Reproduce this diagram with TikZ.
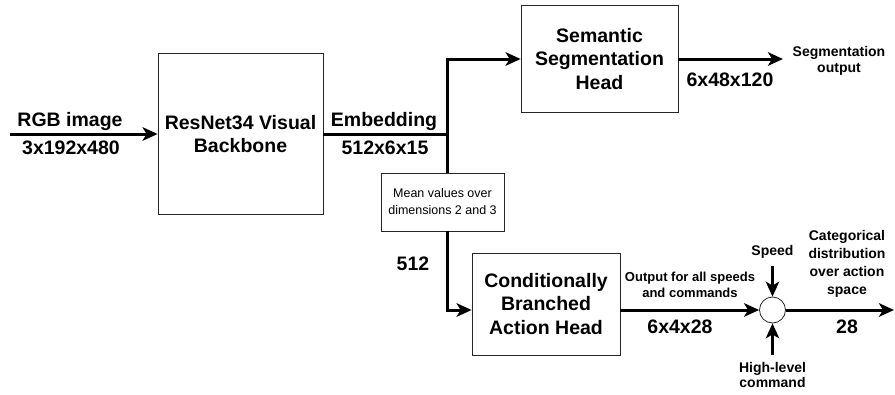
\documentclass[tikz,border=0pt]{standalone}
\usepackage{fontspec}
\setmainfont{Liberation Sans}
\usetikzlibrary{arrows.meta}

\begin{document}
\begin{tikzpicture}[x=1pt,y=-1pt,
  block/.style={draw=black!85, line width=0.8pt, fill=white, align=center,
    inner sep=0pt, font=\fontsize{19.5}{23.5}\selectfont\bfseries},
  big/.style={inner sep=0pt, align=center, font=\fontsize{19.5}{23.5}\selectfont\bfseries},
  small/.style={inner sep=0pt, align=center, font=\fontsize{14}{15.5}\selectfont\bfseries},
  conn/.style={line width=3pt},
  flow/.style={line width=3pt, -{Stealth[length=15pt,width=13.5pt,inset=4pt]}},
  sumnode/.style={circle, draw=black!85, line width=0.8pt, fill=white, minimum size=26pt, inner sep=0pt}
]
\useasboundingbox (0,0) rectangle (895,394);

% processing blocks
\node[block, minimum width=165pt, minimum height=161pt] (res) at (240.5,134) {ResNet34 Visual\\Backbone};
\node[block, minimum width=157pt, minimum height=107pt] (sem) at (599.5,59) {Semantic\\Segmentation\\Head};
\node[block, minimum width=148pt, minimum height=102pt] (act) at (546,304) {Conditionally\\Branched\\Action Head};
\node[sumnode] (sum) at (772.5,310) {};

% free ends of the connectors
\coordinate (rgbin) at (10,134);
\coordinate (jn) at (447,134);
\coordinate (segend) at (783,59);
\coordinate (outend) at (894,310);
\coordinate (spdin) at (772.5,266);
\coordinate (cmdin) at (772.5,355);

% backbone and embedding
\draw[flow] (rgbin) -- (res.west);
\draw[conn] (res.east) -- (jn);
\draw[flow] (jn) |- (sem.west);
\draw[flow] (sem.east) -- (segend);

% pooling step on the action branch
\node[draw=black!85, line width=0.8pt, fill=white, minimum width=123pt, minimum height=58pt,
  inner sep=0pt, align=center, font=\fontsize{12.5}{17}\selectfont] (mean) at (442.5,202)
  {Mean values over\\dimensions 2 and 3};
\draw[conn] (jn) -- (jn |- mean.north);
\draw[flow] (jn |- mean.south) |- (act.west |- sum);
\draw[flow] (act.east |- sum) -- (sum.west);
\draw[flow] (spdin) -- (sum.north);
\draw[flow] (cmdin) -- (sum.south);
\draw[flow] (sum.east) -- (outend);

% labels
\node[big] (rgbt) at (70,121) {RGB image};
\node[big] (rgbd) at (71,148) {3x192x480};
\node[big] (embt) at (384,121) {Embedding};
\node[big] (embd) at (385,148) {512x6x15};
\node[big] (segd) at (730,80) {6x48x120};
\node[small] (segt) at (839,61) {Segmentation\\output};
\node[big] (pool) at (413,264) {512};
\node[inner sep=0pt, align=center, font=\fontsize{13}{16}\selectfont\bfseries] (allt) at (690,285)
  {Output for all speeds\\and commands};
\node[big] (actd) at (680,327) {6x4x28};
\node[small] (spdt) at (772.5,252) {Speed};
\node[small] (cmdt) at (772.5,375) {High-level\\command};
\node[inner sep=0pt, align=center, font=\fontsize{14}{18}\selectfont\bfseries] (catt) at (847,264)
  {Categorical\\distribution\\over action\\space};
\node[big] (outd) at (847,327) {28};
\end{tikzpicture}
\end{document}
